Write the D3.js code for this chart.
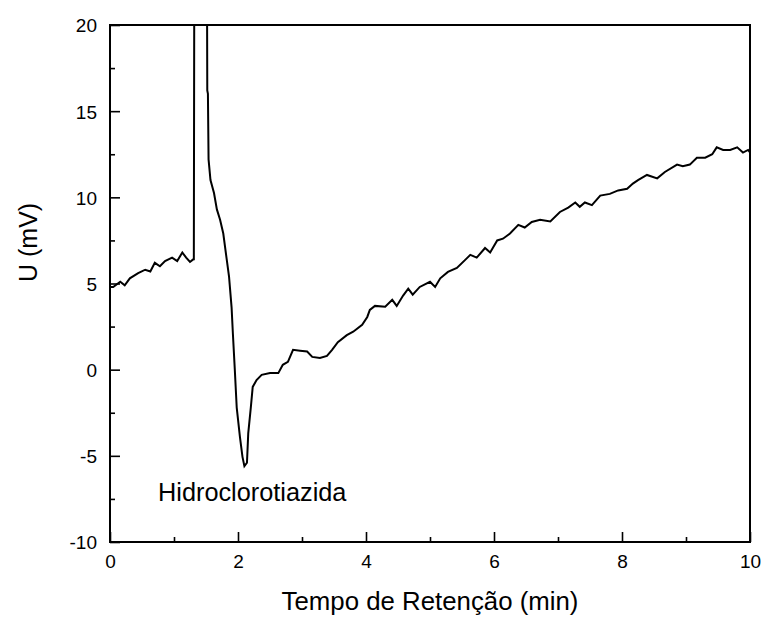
<!DOCTYPE html>
<html><head><meta charset="utf-8">
<script src="https://cdn.jsdelivr.net/npm/d3@7/dist/d3.min.js"></script>
<style>body{margin:0;background:#fff}svg{display:block}text{font-family:"Liberation Sans",Arial,sans-serif;fill:#000}</style>
</head><body><svg id="c" width="763" height="617"></svg>
<script>
const time = [0.00,0.05,0.16,0.23,0.31,0.44,0.55,0.63,0.70,0.78,0.86,0.97,1.05,1.13,1.19,1.25,1.30,1.31,1.32,1.51,1.52,1.53,1.54,1.57,1.625,1.67,1.72,1.77,1.82,1.86,1.90,1.92,1.95,1.98,2.03,2.07,2.10,2.14,2.16,2.20,2.23,2.29,2.37,2.50,2.63,2.70,2.78,2.86,2.97,3.08,3.16,3.28,3.39,3.47,3.56,3.70,3.80,3.94,4.02,4.06,4.14,4.30,4.41,4.48,4.58,4.66,4.73,4.84,5.00,5.08,5.16,5.28,5.42,5.55,5.63,5.73,5.86,5.94,6.05,6.14,6.25,6.38,6.48,6.59,6.72,6.88,7.03,7.16,7.27,7.34,7.42,7.53,7.66,7.81,7.94,8.08,8.17,8.25,8.39,8.55,8.67,8.86,8.95,9.06,9.17,9.30,9.41,9.48,9.58,9.69,9.80,9.89,9.97,10.0];
const signal = [4.8,4.8,5.1,4.9,5.3,5.6,5.8,5.7,6.2,6.0,6.3,6.5,6.3,6.8,6.5,6.25,6.4,6.4,30,30,16.2,16.0,12.2,11.0,10.25,9.3,8.7,7.9,6.5,5.4,3.6,2.1,0.0,-2.2,-3.9,-5.06,-5.6,-5.4,-3.7,-2.2,-1.0,-0.6,-0.3,-0.2,-0.2,0.28,0.45,1.15,1.1,1.05,0.74,0.68,0.8,1.15,1.6,2.0,2.2,2.6,3.06,3.47,3.7,3.65,4.05,3.7,4.3,4.7,4.35,4.8,5.1,4.8,5.3,5.67,5.9,6.37,6.66,6.5,7.06,6.8,7.5,7.6,7.9,8.4,8.25,8.57,8.7,8.6,9.15,9.4,9.7,9.45,9.7,9.55,10.1,10.2,10.4,10.5,10.8,11.0,11.3,11.1,11.47,11.9,11.8,11.9,12.3,12.3,12.5,12.9,12.75,12.75,12.9,12.6,12.75,12.6];
const xTicks = [0,2,4,6,8,10];
const xMinor = [1,3,5,7,9];
const yTicks = [-10,-5,0,5,10,15,20];
const yMinor = [-7.5,-2.5,2.5,7.5,12.5,17.5];
const xTitle = "Tempo de Retenção (min)";
const yTitle = "U (mV)";
const peakLabel = "Hidroclorotiazida";

const m = {l:110, t:25, r:13, b:75};
const W = 763, H = 617;
const w = W - m.l - m.r, h = H - m.t - m.b;
const svg = d3.select("#c");
const g = svg.append("g").attr("transform", `translate(${m.l},${m.t})`);
const x = d3.scaleLinear().domain([0,10]).range([0,w]);
const y = d3.scaleLinear().domain([-10,20]).range([h,0]);

g.append("clipPath").attr("id","clip").append("rect").attr("width",w).attr("height",h);

g.append("path").datum(signal).attr("clip-path","url(#clip)")
  .attr("d", d3.line().x((d,i)=>x(time[i])).y(d=>y(d)))
  .attr("fill","none").attr("stroke","#000").attr("stroke-width",2).attr("stroke-linejoin","miter");

const fmt = d => String(d);
const xAx = g.append("g").attr("transform",`translate(0,${h})`)
  .call(d3.axisBottom(x).tickValues(xTicks).tickSizeInner(-10).tickSizeOuter(0).tickPadding(13).tickFormat(fmt));
const xAxMinor = g.append("g").attr("transform",`translate(0,${h})`)
  .call(d3.axisBottom(x).tickValues(xMinor).tickSizeInner(-5).tickSizeOuter(0).tickFormat(""));
const yAx = g.append("g")
  .call(d3.axisLeft(y).tickValues(yTicks).tickSizeInner(-10).tickSizeOuter(0).tickPadding(13).tickFormat(fmt));
const yAxMinor = g.append("g")
  .call(d3.axisLeft(y).tickValues(yMinor).tickSizeInner(-5).tickSizeOuter(0).tickFormat(""));
[xAx,xAxMinor,yAx,yAxMinor].forEach(a=>{
  a.select(".domain").remove();
  a.selectAll("line").attr("stroke","#000").attr("stroke-width",1.6);
  a.selectAll("text").attr("font-size",19).style("font-family",'"Liberation Sans",Arial,sans-serif');
});
yAx.selectAll("text").attr("dy","0.36em");

g.append("rect").attr("width",w).attr("height",h).attr("fill","none").attr("stroke","#000").attr("stroke-width",2);

svg.append("text").attr("x", m.l + w/2).attr("y", 610).attr("text-anchor","middle").attr("font-size",25.8).text(xTitle);
svg.append("text").attr("transform",`translate(37,${m.t + y(7.5) + 2}) rotate(-90)`).attr("text-anchor","middle").attr("font-size",25).text(yTitle);
g.append("text").attr("x", x(0.75)).attr("y", y(-7.6)).attr("font-size",25.3).text(peakLabel);
</script></body></html>
